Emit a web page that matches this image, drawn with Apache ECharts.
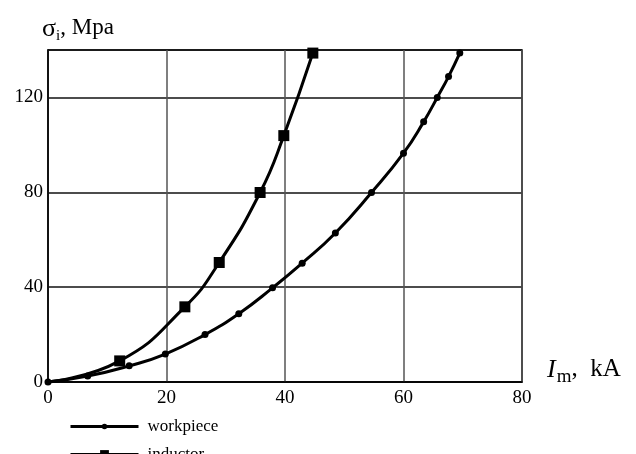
<!DOCTYPE html>
<html>
<head>
<meta charset="utf-8">
<script src="https://cdn.jsdelivr.net/npm/echarts@6/dist/echarts.min.js"></script>
<style>html,body{margin:0;padding:0;background:#fff}#c{width:636px;height:454px}</style>
</head>
<body>
<div id="c"></div>
<script>
var seriesNames = ['workpiece', 'inductor'];
var workpieceX = [0, 6.7, 13.7, 19.8, 26.5, 32.2, 37.9, 42.9, 48.5, 54.6, 60.0, 63.4, 65.7, 67.6, 69.5];
var workpieceY = [0, 2.5, 6.8, 11.8, 20.0, 28.8, 39.7, 50.1, 62.8, 79.9, 96.5, 109.7, 120.0, 128.8, 138.7];
var inductorX = [0, 12.1, 23.1, 28.9, 35.8, 39.8, 44.7];
var inductorY = [0, 8.9, 31.7, 50.4, 79.9, 103.9, 138.7];
var xTicks = [0, 20, 40, 60, 80];
var yTicks = [0, 40, 80, 120];

var serif = '"Liberation Serif", "Times New Roman", serif';
function pairs(xs, ys, hideFirst) {
  return xs.map(function (x, i) {
    var item = { value: [x, ys[i]] };
    if (hideFirst && i === 0) item.symbol = 'none';
    return item;
  });
}
function legendAt(name, top, h) {
  return {
    orient: 'vertical', left: 64, top: top, itemWidth: 68, itemHeight: h,
    lineStyle: { width: 3, color: '#000' },
    textStyle: { fontFamily: serif, fontSize: 17, color: '#000', padding: [0, 0, 0, 4] },
    data: [name]
  };
}

var chart = echarts.init(document.getElementById('c'), null, { renderer: 'canvas' });
chart.setOption({
  animation: false,
  backgroundColor: '#fff',
  grid: { left: 48, right: 114, top: 50, bottom: 72, show: true, borderColor: '#000', borderWidth: 1.5, backgroundColor: 'transparent' },
  legend: [legendAt(seriesNames[0], 413, 7), legendAt(seriesNames[1], 441, 11)],
  xAxis: {
    type: 'value', min: xTicks[0], max: xTicks[xTicks.length - 1], interval: 20,
    axisLine: { show: true, onZero: false, lineStyle: { color: '#000', width: 1.5 } },
    axisTick: { show: false },
    axisLabel: { fontFamily: serif, fontSize: 19, color: '#000', margin: 7 },
    splitLine: { show: true, lineStyle: { color: '#555', width: 1.5 } },
    name: '{it|I}{sub|m}{n|,  kA}',
    nameLocation: 'end', nameGap: 25,
    nameTextStyle: {
      padding: [0, 0, 24, 0],
      rich: {
        it: { fontFamily: serif, fontStyle: 'italic', fontSize: 26, color: '#000', lineHeight: 26, verticalAlign: 'top' },
        sub: { fontFamily: serif, fontSize: 19, color: '#000', lineHeight: 19, verticalAlign: 'top', padding: [11, 0, 0, 1] },
        n: { fontFamily: serif, fontSize: 25, color: '#000', lineHeight: 26, verticalAlign: 'top' }
      }
    }
  },
  yAxis: {
    type: 'value', min: yTicks[0], max: 140, interval: 40,
    axisLine: { show: true, lineStyle: { color: '#000', width: 1.5 } },
    axisTick: { show: false },
    axisLabel: { fontFamily: serif, fontSize: 19, color: '#000', margin: 5, showMaxLabel: false,
      formatter: function (v) { return yTicks.indexOf(v) >= 0 ? String(v) : ''; } },
    splitLine: { show: true, lineStyle: { color: '#111', width: 1.5 } },
    name: '{a|σ}{sub|i}{b|, Mpa}',
    nameLocation: 'end', nameGap: 8,
    nameTextStyle: {
      align: 'center', padding: [0, 0, 0, 60],
      rich: {
        a: { fontFamily: serif, fontSize: 26, color: '#000', lineHeight: 26, verticalAlign: 'top' },
        sub: { fontFamily: serif, fontSize: 15, color: '#000', lineHeight: 15, verticalAlign: 'top', padding: [13, 0, 0, 0] },
        b: { fontFamily: serif, fontSize: 23, color: '#000', lineHeight: 26, verticalAlign: 'top' }
      }
    }
  },
  series: [
    {
      name: seriesNames[0], type: 'line', smooth: true, symbol: 'circle', symbolSize: 7,
      lineStyle: { color: '#000', width: 3 }, itemStyle: { color: '#000' },
      data: pairs(workpieceX, workpieceY, false)
    },
    {
      name: seriesNames[1], type: 'line', smooth: true, symbol: 'rect', symbolSize: 11,
      lineStyle: { color: '#000', width: 3 }, itemStyle: { color: '#000' },
      data: pairs(inductorX, inductorY, true)
    }
  ]
});
</script>
</body>
</html>
